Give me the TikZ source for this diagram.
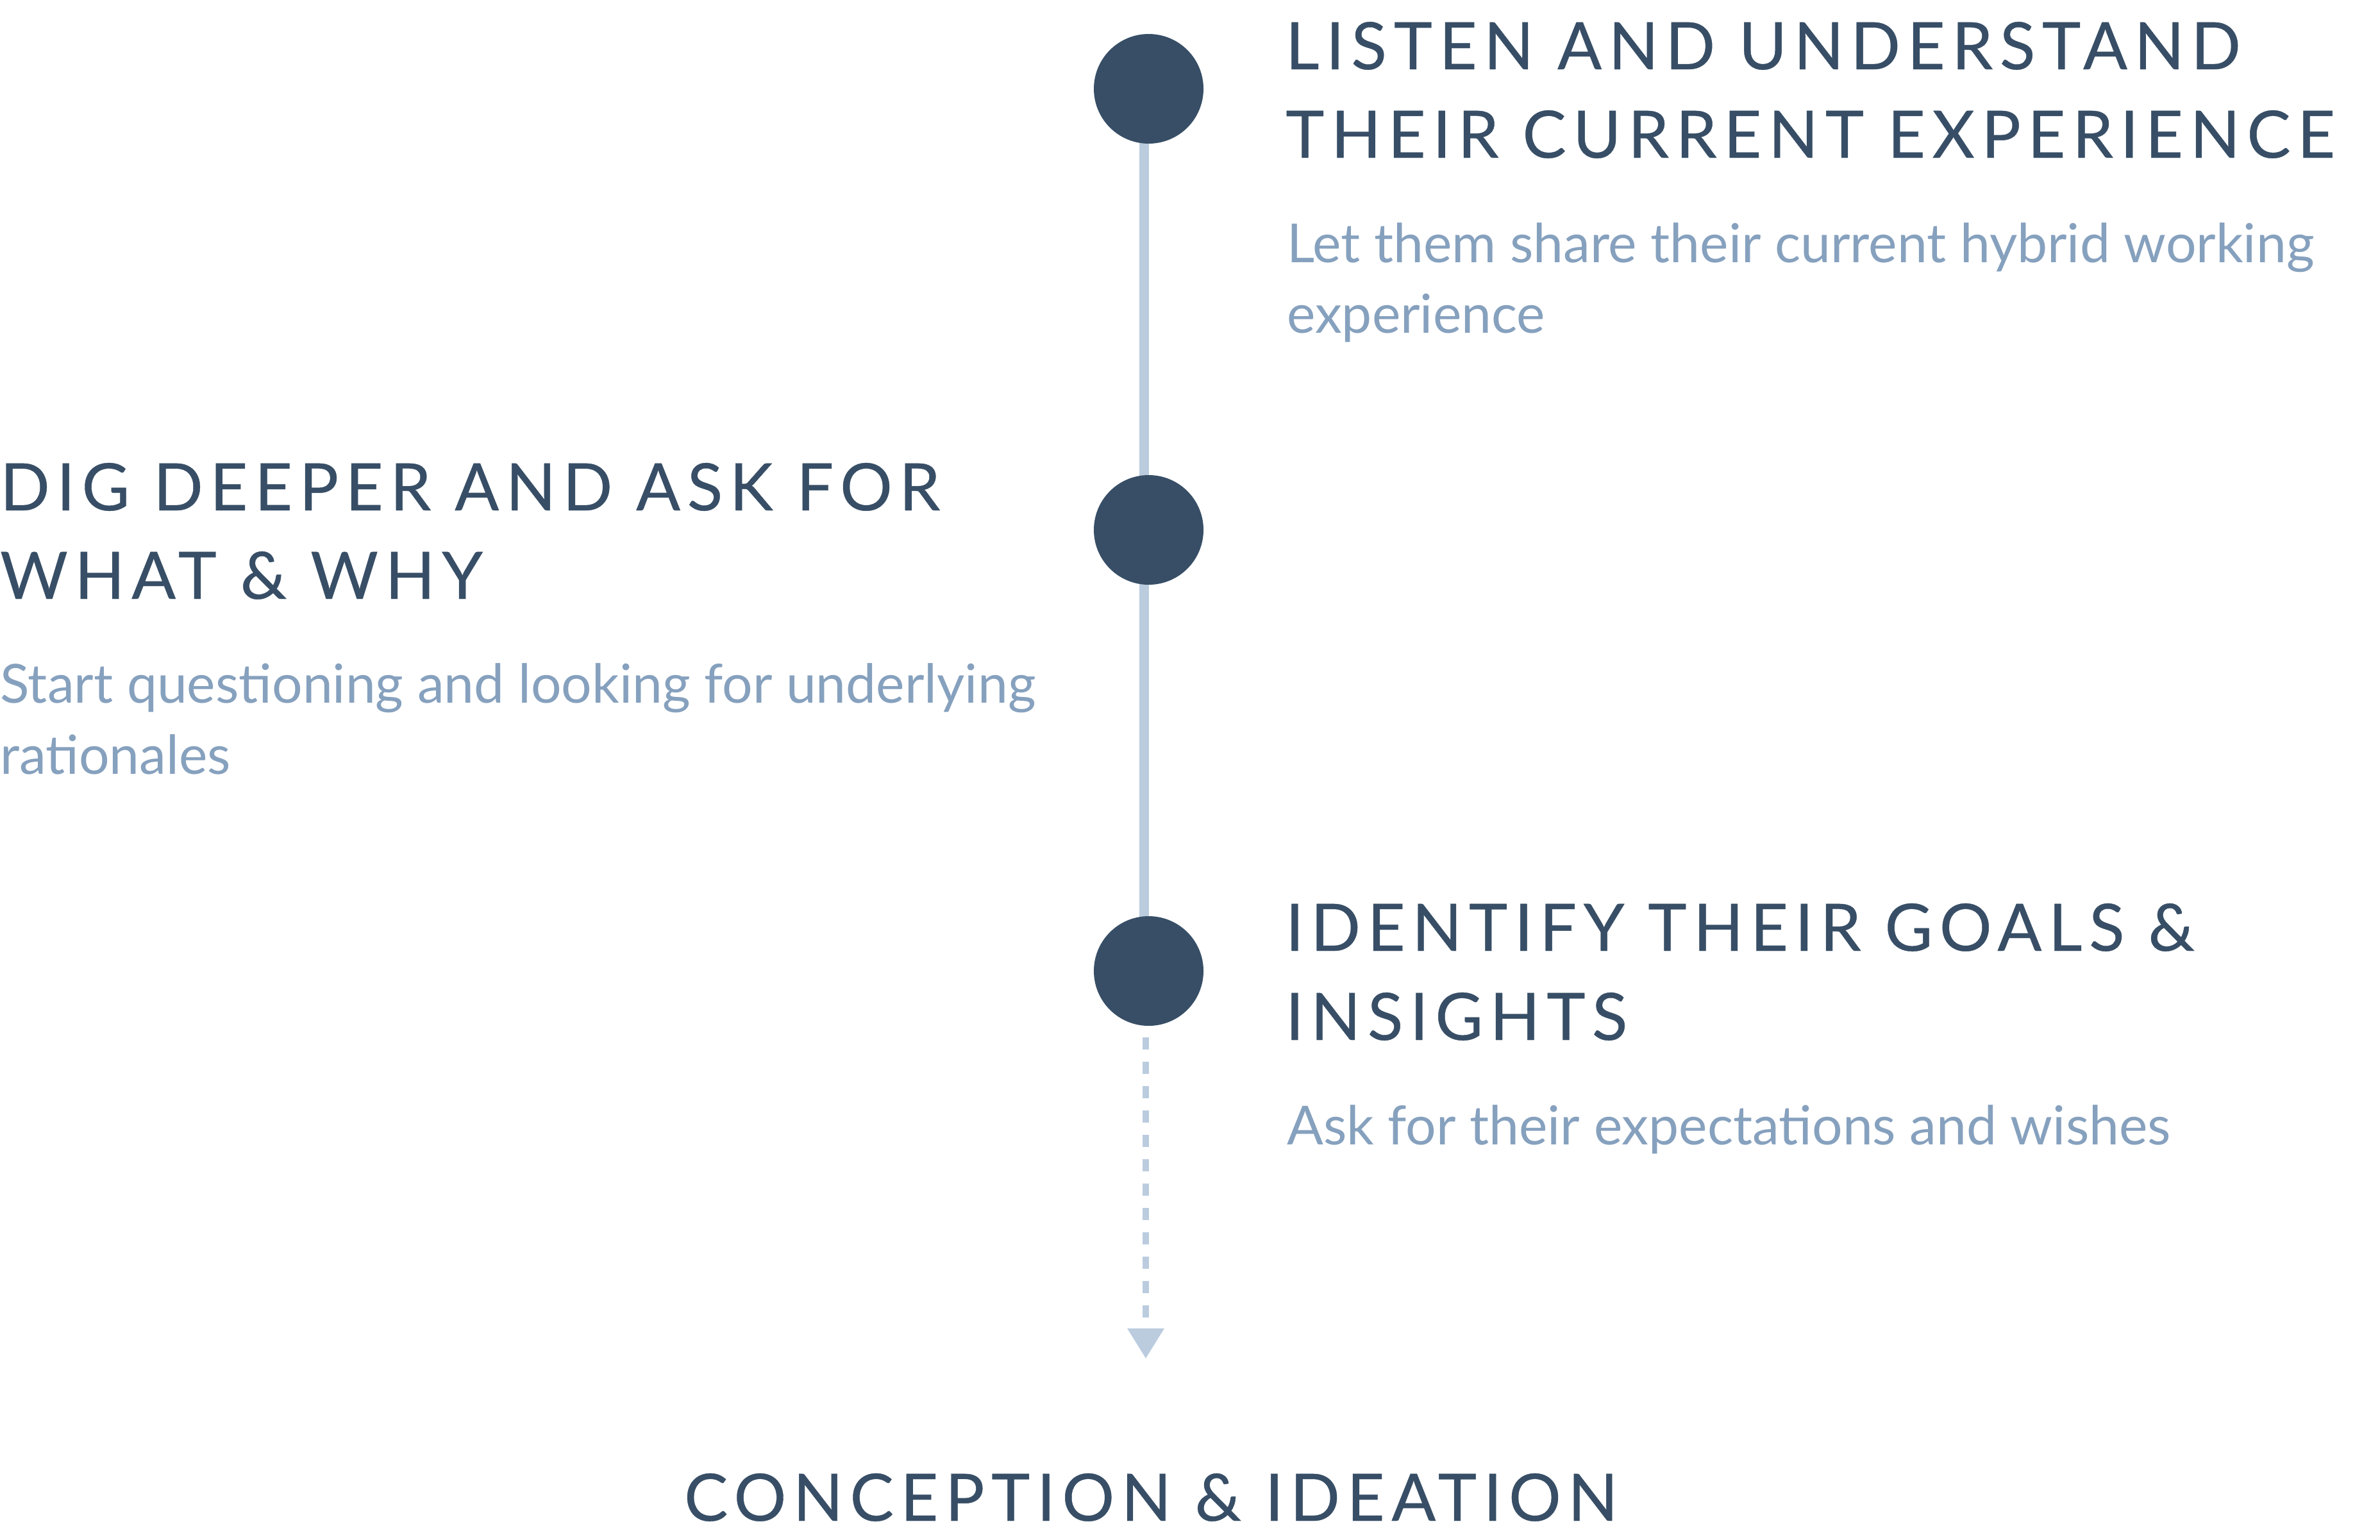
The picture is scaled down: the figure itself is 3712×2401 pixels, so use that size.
\documentclass[tikz,border=0pt]{standalone}
\usepackage{fontspec}
\setmainfont{Lato}
\newfontfamily\headfont{Lato}[LetterSpace=10.5,FakeBold=0.4]
\newfontfamily\bodyfont{Lato}[LetterSpace=0]
\usetikzlibrary{arrows.meta,backgrounds}
\definecolor{darkslate}{RGB}{55,78,102}
\definecolor{bodyblue}{RGB}{134,161,190}
\definecolor{railblue}{RGB}{187,204,223}
\tikzset{
  head/.style={anchor=base west, inner sep=0pt, text=darkslate, font=\headfont\fontsize{102}{138}\selectfont},
  body/.style={anchor=base west, inner sep=0pt, text=bodyblue, font=\bodyfont\fontsize{84}{110}\selectfont},
  dot/.style={circle, fill=darkslate, minimum size=171pt, inner sep=0pt},
  rail/.style={draw=railblue, line width=15pt},
  dashrail/.style={draw=railblue, line width=10pt, dash pattern=on 19pt off 19pt, -{Triangle[length=47pt,width=55pt]}}
}
\begin{document}
\begin{tikzpicture}[x=1pt,y=-1pt]
\useasboundingbox (0,0) rectangle (3712,2401);
% timeline dots
\node[dot] (c1) at (1791.5,138.5) {};
\node[dot] (c2) at (1791.5,826.5) {};
\node[dot] (c3) at (1791.5,1514.5) {};
\begin{scope}[on background layer]
  \draw[rail] ([xshift=-7.5pt]c1.center) -- ([xshift=-7.5pt]c3.center);
\end{scope}
\coordinate (tip) at (1787,2119);
\draw[dashrail] ([xshift=-4.5pt,yshift=-18pt]c3.south) -- (tip);
% step 1
\node[head] (h1a) at (2005,108) {LISTEN AND UNDERSTAND};
\node[head] (h1b) at (2005,246) {THEIR CURRENT EXPERIENCE};
\node[body] (b1a) at (2007,409) {Let them share their current hybrid working};
\node[body] (b1b) at (2007,519) {experience};
% step 2
\node[head] (h2a) at (0,796) {DIG DEEPER AND ASK FOR};
\node[head] (h2b) at (0,934) {WHAT \& WHY};
\node[body] (b2a) at (0,1096) {Start questioning and looking for underlying};
\node[body] (b2b) at (0,1207) {rationales};
% step 3
\node[head] (h3a) at (2005,1483) {IDENTIFY THEIR GOALS \&};
\node[head] (h3b) at (2005,1622) {INSIGHTS};
\node[body] (b3) at (2007,1785) {Ask for their expectations and wishes};
% conclusion
\node[head] (con) at (1067,2372) {CONCEPTION \& IDEATION};
\end{tikzpicture}
\end{document}
